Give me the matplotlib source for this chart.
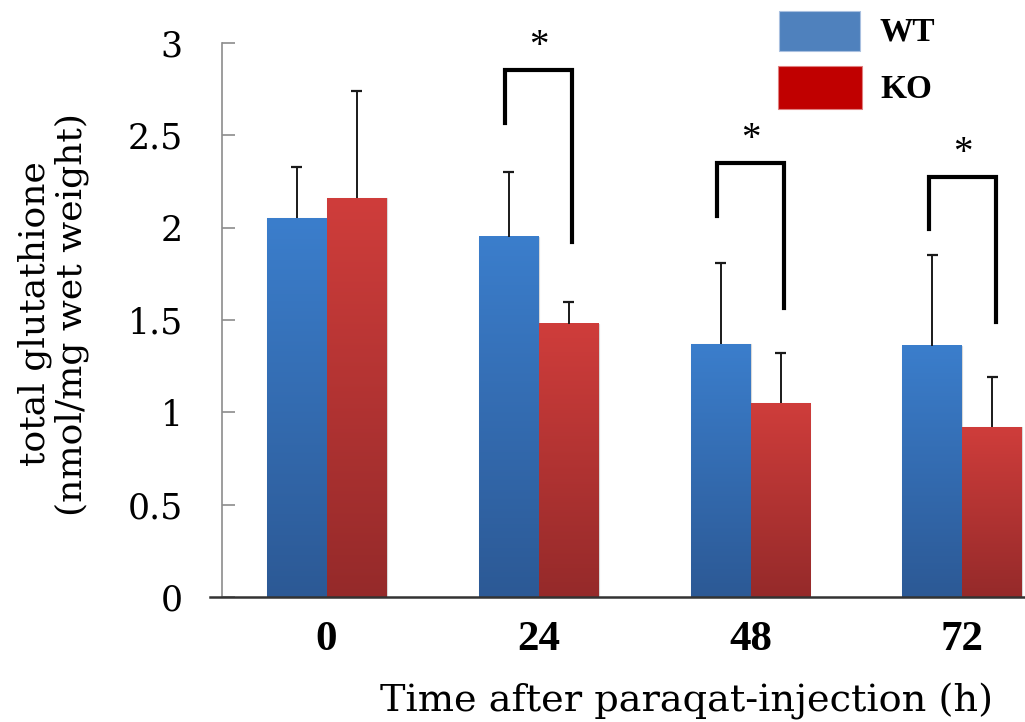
import matplotlib
matplotlib.use("Agg")
import matplotlib.pyplot as plt
import numpy as np
from matplotlib.colors import LinearSegmentedColormap
from matplotlib.patches import Rectangle

# data
times = ["0", "24", "48", "72"]
wt_mean = [2.05, 1.95, 1.37, 1.36]
wt_sd = [0.28, 0.35, 0.44, 0.49]
ko_mean = [2.16, 1.48, 1.05, 0.92]
ko_sd = [0.58, 0.12, 0.27, 0.27]

# significance brackets: group index, top, left foot, right foot
sig_groups = [1, 2, 3]
sig_top = [2.855, 2.351, 2.275]
sig_left = [2.568, 2.064, 1.993]
sig_right = [1.923, 1.566, 1.490]

W, H = 1025, 722
fig = plt.figure(figsize=(W / 100, H / 100), dpi=100)
ax = fig.add_axes([210 / W, (H - 597) / H, 815 / W, 554 / H])

x = np.arange(len(times))
bw = 0.283
wt_cmap = LinearSegmentedColormap.from_list("wt", ["#2c5995", "#3b7ecc"])
ko_cmap = LinearSegmentedColormap.from_list("ko", ["#952a2a", "#cf3d3b"])
grad = np.linspace(0, 1, 256).reshape(-1, 1)


def gradient_bars(xs, heights, cmap):
    bars = ax.bar(xs, heights, bw, color="none", edgecolor="#d8d8d8",
                  linewidth=0.8, zorder=1)
    for b in bars:
        x0, w, h = b.get_x(), b.get_width(), b.get_height()
        ax.imshow(grad, cmap=cmap, origin="lower", aspect="auto",
                  extent=[x0, x0 + w, 0, h], zorder=2)
    return bars


def upper_errors(xs, means, sds):
    tops = np.add(means, sds)
    ax.vlines(xs, means, tops, color="#1a1a1a", lw=1.4, zorder=3)
    ax.hlines(tops, xs - 0.026, xs + 0.026, color="#1a1a1a", lw=1.6,
              zorder=3)


gradient_bars(x - bw / 2, wt_mean, wt_cmap)
gradient_bars(x + bw / 2, ko_mean, ko_cmap)
upper_errors(x - bw / 2, wt_mean, wt_sd)
upper_errors(x + bw / 2, ko_mean, ko_sd)

# brackets with stars
off = 0.158
for g, top, lft, rgt in zip(sig_groups, sig_top, sig_left, sig_right):
    ax.plot([g - off, g - off, g + off, g + off], [lft, top, top, rgt],
            color="black", lw=3, solid_joinstyle="miter", clip_on=False,
            zorder=4)
    ax.text(g, top + 0.125, "*", ha="center", va="center", fontsize=28,
            family="Liberation Serif", clip_on=False)

ax.set_xlim(-0.55, 3.295)
ax.set_ylim(0, 3)

for s in ["top", "right"]:
    ax.spines[s].set_visible(False)
ax.spines["left"].set_position(("data", -0.495))
ax.spines["left"].set_color("#8c8c8c")
ax.spines["left"].set_linewidth(1.2)
ax.spines["bottom"].set_color("#333333")
ax.spines["bottom"].set_linewidth(1.8)
ax.spines["bottom"].set_zorder(5)

ax.set_yticks(np.arange(0, 3.01, 0.5))
ax.set_yticklabels(["0", "0.5", "1", "1.5", "2", "2.5", "3"],
                   family="DejaVu Serif", fontsize=25)
ax.tick_params(axis="y", direction="in", length=9.5, width=1.2,
               color="#8c8c8c", pad=28)
ax.set_xticks(x)
ax.set_xticklabels(times, family="Liberation Serif", fontweight="bold",
                   fontsize=31)
ax.tick_params(axis="x", length=0, pad=17)

ax.set_xlabel("Time after paraqat-injection (h)", family="DejaVu Serif",
              fontsize=27.5)
ax.xaxis.set_label_coords((687 - 210) / 815, -0.155)

fig.text(53 / W, 1 - 314 / H, "total glutathione\n(nmol/mg wet weight)",
         rotation=90, ha="center", va="center", family="DejaVu Serif",
         fontsize=26, linespacing=1.08)

# legend
fig.add_artist(Rectangle((779 / W, 1 - 51 / H), 81 / W, 40 / H,
                         transform=fig.transFigure, facecolor="#4f81bd",
                         edgecolor="#a9c0e0", linewidth=0.8))
fig.add_artist(Rectangle((778 / W, 1 - 109 / H), 84 / W, 43 / H,
                         transform=fig.transFigure, facecolor="#c00000",
                         edgecolor="#e08080", linewidth=0.8))
fig.text(880 / W, 1 - 32 / H, "WT", ha="left", va="center",
         family="Liberation Serif", fontweight="bold", fontsize=24)
fig.text(880 / W, 1 - 89 / H, "KO", ha="left", va="center",
         family="Liberation Serif", fontweight="bold", fontsize=24)

fig.savefig("out.png", dpi=100)
